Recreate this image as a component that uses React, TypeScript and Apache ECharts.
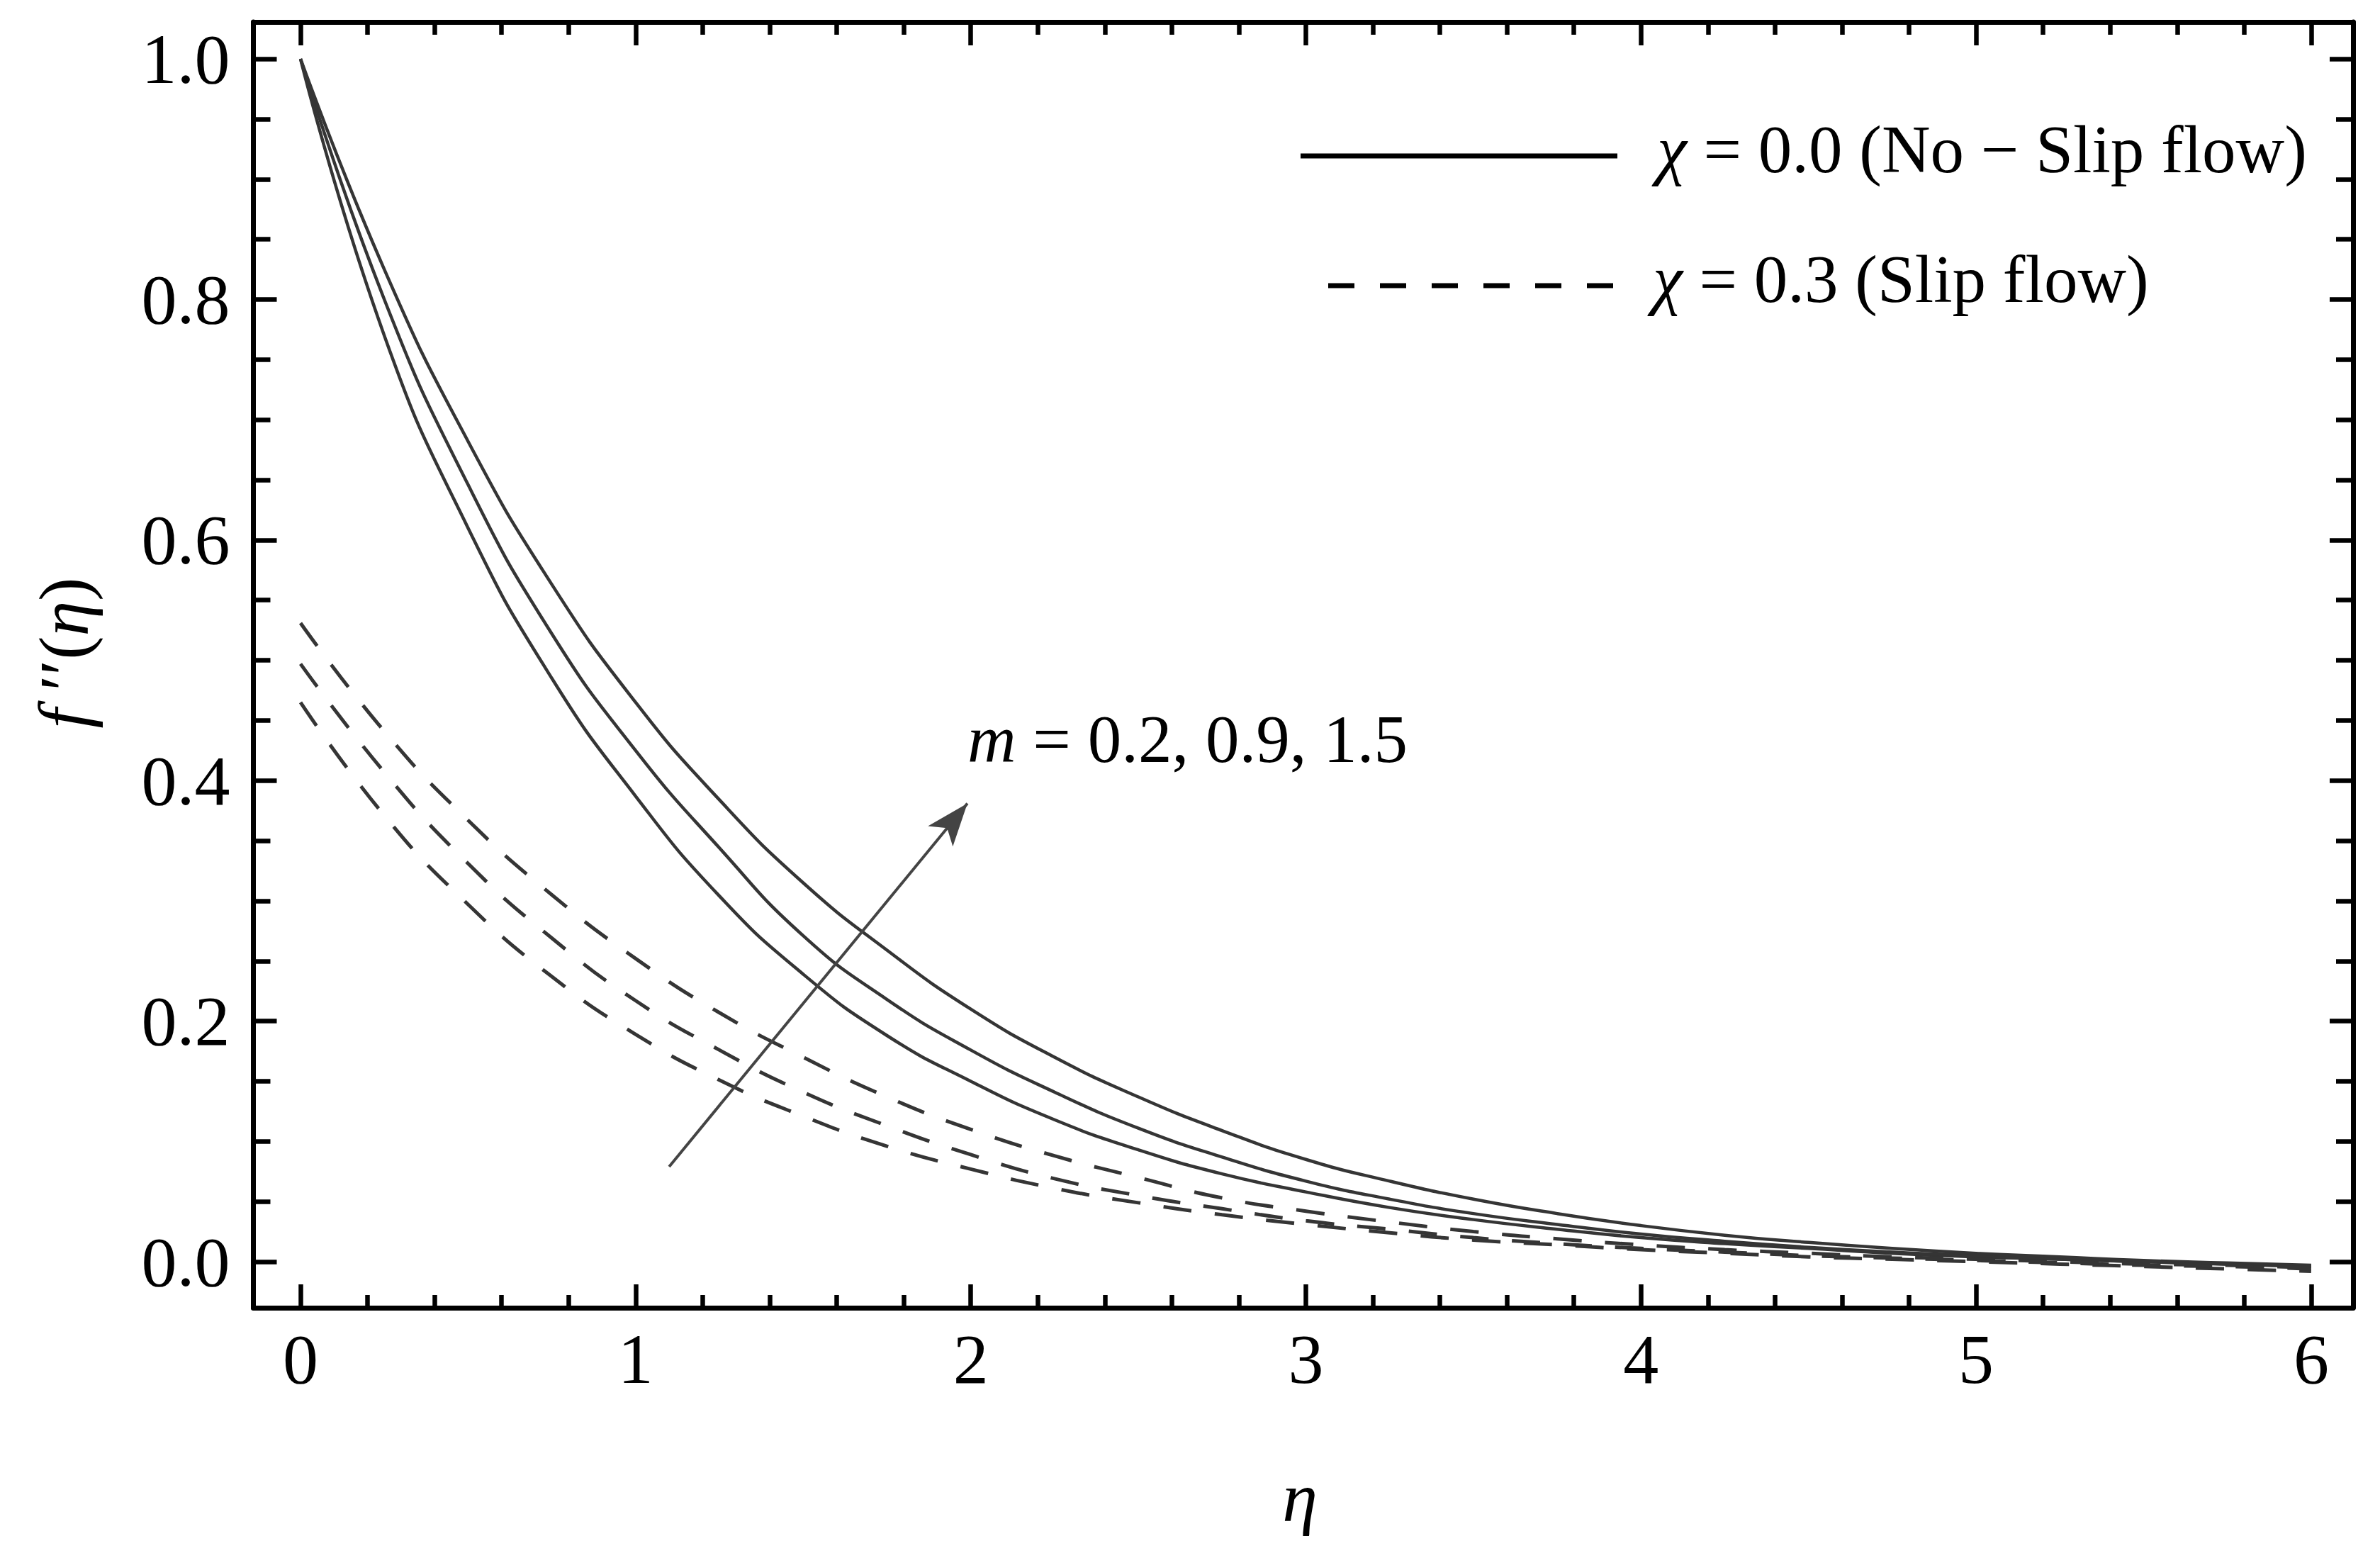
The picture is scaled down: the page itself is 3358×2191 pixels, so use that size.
import React, { useEffect, useRef } from "react";
import * as echarts from "echarts";

// eta grid (x values)
const ETA = [0, 0.25, 0.5, 0.75, 1, 1.25, 1.5, 1.75, 2, 2.25, 2.5, 2.75, 3, 3.25, 3.5, 3.75, 4, 4.25, 4.5, 4.75, 5, 5.25, 5.5, 5.75, 6];

// chi = 0.0 (No-slip flow), solid curves
const NOSLIP_M02 = [1.0, 0.77, 0.61, 0.485, 0.387, 0.304, 0.239, 0.188, 0.15, 0.118, 0.093, 0.073, 0.058, 0.045, 0.035, 0.027, 0.02, 0.015, 0.011, 0.007, 0.004, 0.002, 0.0, -0.002, -0.004];
const NOSLIP_M09 = [1.0, 0.8, 0.646, 0.522, 0.425, 0.344, 0.271, 0.218, 0.176, 0.141, 0.111, 0.087, 0.067, 0.052, 0.04, 0.031, 0.023, 0.017, 0.012, 0.008, 0.005, 0.002, 0.0, -0.002, -0.004];
const NOSLIP_M15 = [1.0, 0.825, 0.682, 0.563, 0.465, 0.384, 0.315, 0.259, 0.21, 0.17, 0.137, 0.109, 0.085, 0.067, 0.052, 0.04, 0.03, 0.022, 0.016, 0.011, 0.007, 0.004, 0.001, -0.001, -0.003];

// chi = 0.3 (Slip flow), dashed curves
const SLIP_M02 = [0.465, 0.371, 0.297, 0.237, 0.189, 0.151, 0.121, 0.096, 0.077, 0.061, 0.049, 0.039, 0.031, 0.024, 0.018, 0.014, 0.01, 0.007, 0.004, 0.002, 0.0, -0.002, -0.004, -0.006, -0.008];
const SLIP_M09 = [0.497, 0.407, 0.331, 0.269, 0.217, 0.176, 0.141, 0.113, 0.089, 0.069, 0.055, 0.044, 0.034, 0.027, 0.02, 0.015, 0.011, 0.008, 0.005, 0.003, 0.001, -0.001, -0.003, -0.004, -0.006];
const SLIP_M15 = [0.531, 0.441, 0.367, 0.305, 0.252, 0.207, 0.17, 0.137, 0.11, 0.088, 0.07, 0.053, 0.042, 0.033, 0.025, 0.019, 0.014, 0.01, 0.007, 0.004, 0.002, 0.0, -0.002, -0.003, -0.005];

// arrow (m increasing)
const ARROW_FROM = [1.1, 0.079];
const ARROW_TO = [1.99, 0.381];

// axes
const X_MIN = -0.1407;
const X_MAX = 6.125;
const Y_MIN = -0.0383;
const Y_MAX = 1.0307;
const X_TICKS = [0, 1, 2, 3, 4, 5, 6];
const X_MINOR = [0.2, 0.4, 0.6, 0.8, 1.2, 1.4, 1.6, 1.8, 2.2, 2.4, 2.6, 2.8, 3.2, 3.4, 3.6, 3.8, 4.2, 4.4, 4.6, 4.8, 5.2, 5.4, 5.6, 5.8];
const Y_TICKS = [0, 0.2, 0.4, 0.6, 0.8, 1.0];
const Y_MINOR = [0.05, 0.1, 0.15, 0.25, 0.3, 0.35, 0.45, 0.5, 0.55, 0.65, 0.7, 0.75, 0.85, 0.9, 0.95];

const LEGEND_SOLID = "χ = 0.0 (No − Slip flow)";
const LEGEND_DASHED = "χ = 0.3 (Slip flow)";
const ANNOTATION = "m = 0.2, 0.9, 1.5";

const SERIF = "'Liberation Serif', 'Times New Roman', 'DejaVu Serif', serif";
const CURVE_COLOR = "#353535";

const pair = (ys: number[]) => ETA.map((x, i) => [x, ys[i]]);

function makeXAxis(position: "top" | "bottom", ticks: number[], len: number, line: boolean, labels: boolean) {
  return {
    type: "value",
    position,
    min: X_MIN,
    max: X_MAX,
    axisLine: { show: line, onZero: false, lineStyle: { color: "#000", width: 7 } },
    axisTick: { show: true, inside: true, length: len, customValues: ticks, lineStyle: { color: "#000", width: 6.5 } },
    axisLabel: labels
      ? {
          show: true,
          customValues: ticks,
          fontSize: 100,
          fontFamily: SERIF,
          color: "#000",
          margin: 22,
          formatter: (v: number) => String(Math.round(v)),
        }
      : { show: false },
    splitLine: { show: false },
  };
}

function makeYAxis(position: "left" | "right", ticks: number[], len: number, line: boolean, labels: boolean) {
  return {
    type: "value",
    position,
    min: Y_MIN,
    max: Y_MAX,
    axisLine: { show: line, onZero: false, lineStyle: { color: "#000", width: 7 } },
    axisTick: { show: true, inside: true, length: len, customValues: ticks, lineStyle: { color: "#000", width: 6.5 } },
    axisLabel: labels
      ? {
          show: true,
          customValues: ticks,
          fontSize: 100,
          fontFamily: SERIF,
          color: "#000",
          margin: 33,
          padding: [0, 0, 20, 0],
          formatter: (v: number) => v.toFixed(1),
        }
      : { show: false },
    splitLine: { show: false },
  };
}

function curve(name: string, ys: number[], dashed: boolean) {
  return {
    name,
    type: "line",
    data: pair(ys),
    showSymbol: false,
    smooth: 0.5,
    xAxisIndex: 0,
    yAxisIndex: 0,
    lineStyle: dashed
      ? { color: CURVE_COLOR, width: 5, type: [40, 33] }
      : { color: CURVE_COLOR, width: 4.5, type: "solid" },
    silent: true,
  };
}

export default function App() {
  const ref = useRef<HTMLDivElement>(null);

  useEffect(() => {
    if (!ref.current) return;
    const chart = echarts.init(ref.current, null, { renderer: "svg" });
    const option = {
      animation: false,
      backgroundColor: "#fff",
      grid: { left: 357.5, right: 38, top: 31, bottom: 346, containLabel: false },
      xAxis: [
        makeXAxis("bottom", X_TICKS, 33, true, true),
        makeXAxis("bottom", X_MINOR, 18, false, false),
        makeXAxis("top", X_TICKS, 33, true, false),
        makeXAxis("top", X_MINOR, 18, false, false),
      ],
      yAxis: [
        makeYAxis("left", Y_TICKS, 33, true, true),
        makeYAxis("left", Y_MINOR, 24, false, false),
        makeYAxis("right", Y_TICKS, 33, true, false),
        makeYAxis("right", Y_MINOR, 24, false, false),
      ],
      series: [
        curve("noslip-0.2", NOSLIP_M02, false),
        curve("noslip-0.9", NOSLIP_M09, false),
        curve("noslip-1.5", NOSLIP_M15, false),
        curve("slip-0.2", SLIP_M02, true),
        curve("slip-0.9", SLIP_M09, true),
        curve("slip-1.5", SLIP_M15, true),
        {
          name: "arrow",
          type: "line",
          data: [],
          xAxisIndex: 0,
          yAxisIndex: 0,
          markLine: {
            silent: true,
            animation: false,
            symbol: ["none", "arrow"],
            symbolSize: [34, 60],
            label: { show: false },
            lineStyle: { color: "#444", width: 4, type: "solid" },
            data: [[{ coord: ARROW_FROM }, { coord: ARROW_TO }]],
          },
        },
      ],
      graphic: [
        {
          type: "line",
          shape: { x1: 1835, y1: 220, x2: 2282, y2: 220 },
          style: { stroke: "#000", lineWidth: 7 },
        },
        {
          type: "text",
          x: 2338,
          y: 211,
          style: {
            text: "{i|χ}" + LEGEND_SOLID.slice(1),
            fontSize: 95,
            fontFamily: SERIF,
            fill: "#000",
            align: "left",
            verticalAlign: "middle",
            rich: { i: { fontStyle: "italic", fontSize: 95, fontFamily: SERIF, fill: "#000" } },
          },
        },
        {
          type: "line",
          shape: { x1: 1874, y1: 403, x2: 2282, y2: 403 },
          style: { stroke: "#000", lineWidth: 7, lineDash: [37, 36] },
        },
        {
          type: "text",
          x: 2332,
          y: 394,
          style: {
            text: "{i|χ}" + LEGEND_DASHED.slice(1),
            fontSize: 95,
            fontFamily: SERIF,
            fill: "#000",
            align: "left",
            verticalAlign: "middle",
            rich: { i: { fontStyle: "italic", fontSize: 95, fontFamily: SERIF, fill: "#000" } },
          },
        },
        {
          type: "text",
          x: 1365,
          y: 1043,
          style: {
            text: "{i|m}" + ANNOTATION.slice(1),
            fontSize: 95,
            fontFamily: SERIF,
            fill: "#000",
            align: "left",
            verticalAlign: "middle",
            rich: { i: { fontStyle: "italic", fontSize: 95, fontFamily: SERIF, fill: "#000" } },
          },
        },
        {
          type: "text",
          x: 1834,
          y: 2112,
          style: {
            text: "η",
            fontSize: 100,
            fontStyle: "italic",
            fontFamily: SERIF,
            fill: "#000",
            align: "center",
            verticalAlign: "middle",
          },
        },
        {
          type: "text",
          x: 90,
          y: 921,
          rotation: Math.PI / 2,
          style: {
            text: "{i|f} ′′({i|η})",
            fontSize: 100,
            fontFamily: SERIF,
            fill: "#000",
            align: "center",
            verticalAlign: "middle",
            rich: { i: { fontStyle: "italic", fontSize: 100, fontFamily: SERIF, fill: "#000" } },
          },
        },
      ],
    };
    chart.setOption(option as any);
    return () => chart.dispose();
  }, []);

  return (
    <div
      ref={ref}
      style={{ position: "fixed", left: 0, top: 0, width: 3358, height: 2191, background: "#fff" }}
    />
  );
}
